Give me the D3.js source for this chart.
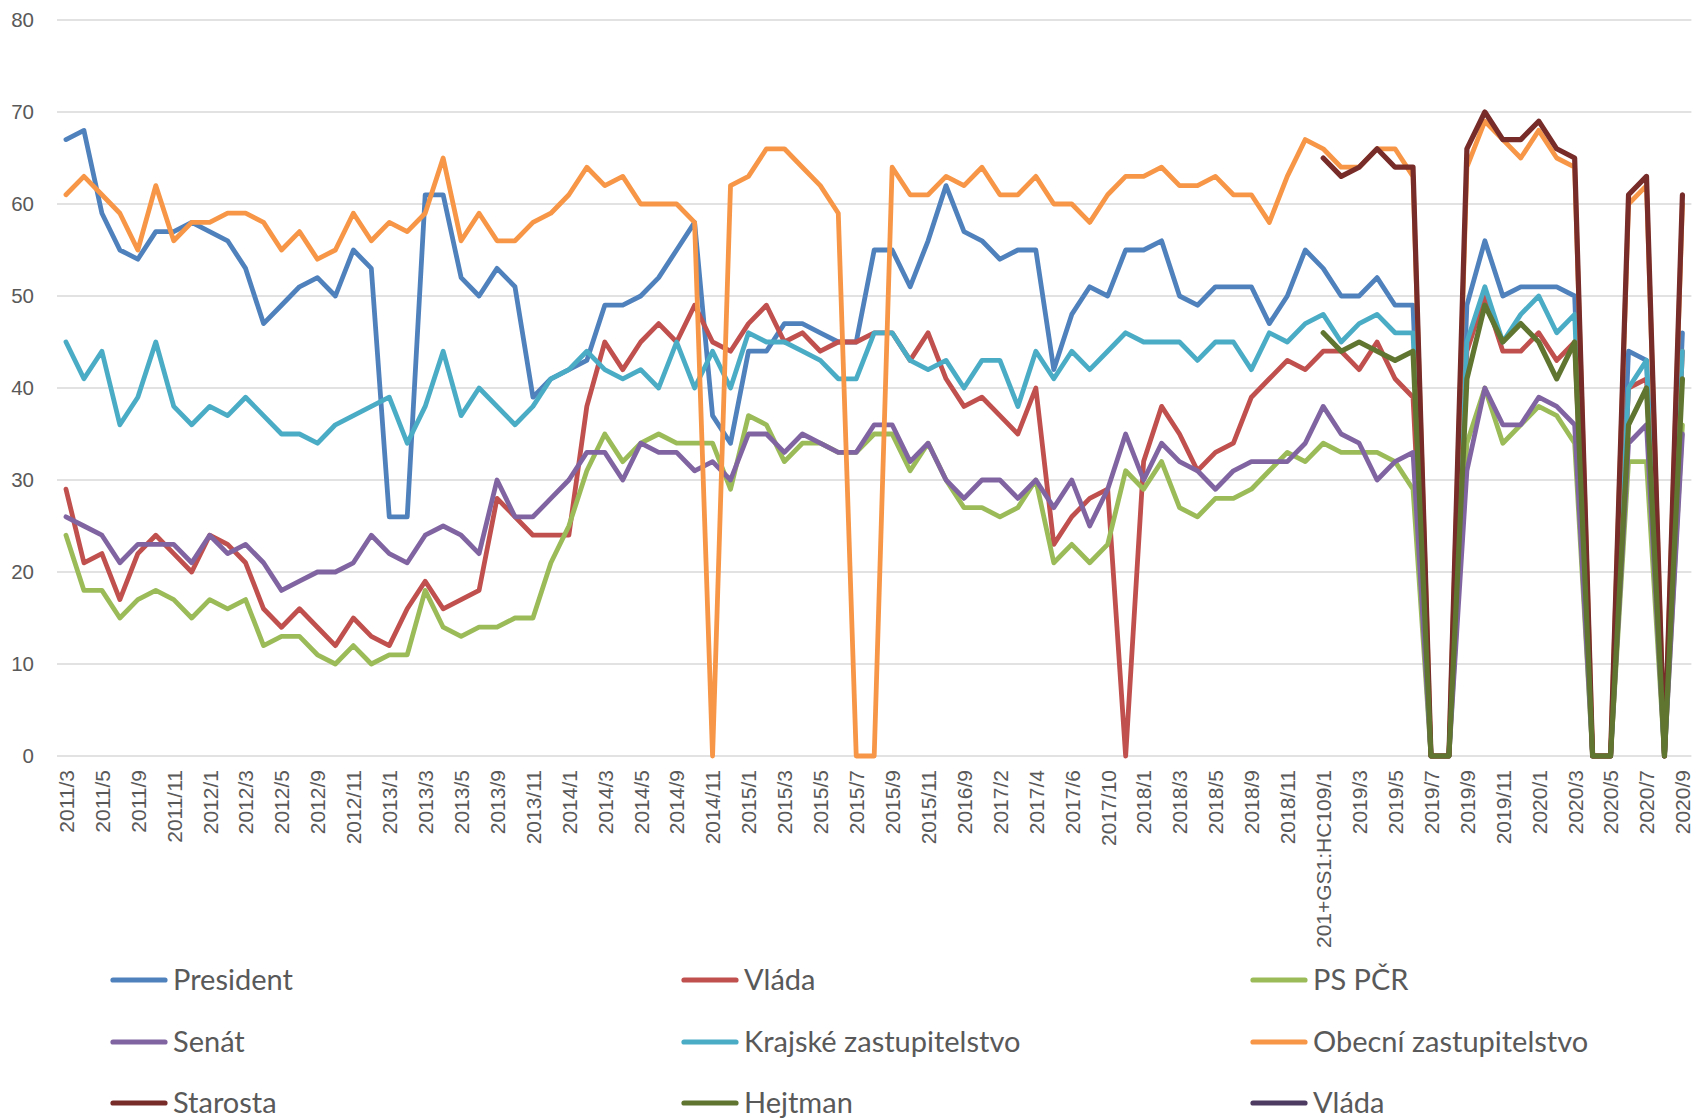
<!DOCTYPE html>
<html>
<head>
<meta charset="utf-8">
<script src="https://cdn.jsdelivr.net/npm/d3@7"></script>
<style>
  html, body { margin: 0; padding: 0; background: #fff; }
  svg { display: block; }
</style>
</head>
<body>
<svg id="chart" width="1696" height="1118"></svg>
<script>
// Survey months (category axis); every second one carries a visible label
const months = [
  "2011/3","2011/4","2011/5","2011/6","2011/9","2011/10","2011/11","2011/12",
  "2012/1","2012/2","2012/3","2012/4","2012/5","2012/6","2012/9","2012/10",
  "2012/11","2012/12","2013/1","2013/2","2013/3","2013/4","2013/5","2013/6",
  "2013/9","2013/10","2013/11","2013/12","2014/1","2014/2","2014/3","2014/4",
  "2014/5","2014/6","2014/9","2014/10","2014/11","2014/12","2015/1","2015/2",
  "2015/3","2015/4","2015/5","2015/6","2015/7","2015/8","2015/9","2015/10",
  "2015/11","2016/1","2016/9","2016/11","2017/2","2017/3","2017/4","2017/5",
  "2017/6","2017/9","2017/10","2017/11","2018/1","2018/2","2018/3","2018/4",
  "2018/5","2018/6","2018/9","2018/10","2018/11","2018/12","201+GS1:HC109/1","2019/2",
  "2019/3","2019/4","2019/5","2019/6","2019/7","2019/8","2019/9","2019/10",
  "2019/11","2019/12","2020/1","2020/2","2020/3","2020/4","2020/5","2020/6",
  "2020/7","2020/8","2020/9"
];

const president = [
  67,68,59,55,54,57,57,58,57,56,
  53,47,49,51,52,50,55,53,26,26,
  61,61,52,50,53,51,39,41,42,43,
  49,49,50,52,55,58,37,34,44,44,
  47,47,46,45,45,55,55,51,56,62,
  57,56,54,55,55,42,48,51,50,55,
  55,56,50,49,51,51,51,47,50,55,
  53,50,50,52,49,49,0,0,49,56,
  50,51,51,51,50,0,0,44,43,0,46
];
const vlada = [
  29,21,22,17,22,24,22,20,24,23,
  21,16,14,16,14,12,15,13,12,16,
  19,16,17,18,28,26,24,24,24,38,
  45,42,45,47,45,49,45,44,47,49,
  45,46,44,45,45,46,46,43,46,41,
  38,39,37,35,40,23,26,28,29,0,
  32,38,35,31,33,34,39,41,43,42,
  44,44,42,45,41,39,0,0,44,50,
  44,44,46,43,45,0,0,40,41,0,44
];
const psPcr = [
  24,18,18,15,17,18,17,15,17,16,
  17,12,13,13,11,10,12,10,11,11,
  18,14,13,14,14,15,15,21,25,31,
  35,32,34,35,34,34,34,29,37,36,
  32,34,34,33,33,35,35,31,34,30,
  27,27,26,27,30,21,23,21,23,31,
  29,32,27,26,28,28,29,31,33,32,
  34,33,33,33,32,29,0,0,34,40,
  34,36,38,37,34,0,0,32,32,0,36
];
const senat = [
  26,25,24,21,23,23,23,21,24,22,
  23,21,18,19,20,20,21,24,22,21,
  24,25,24,22,30,26,26,28,30,33,
  33,30,34,33,33,31,32,30,35,35,
  33,35,34,33,33,36,36,32,34,30,
  28,30,30,28,30,27,30,25,29,35,
  30,34,32,31,29,31,32,32,32,34,
  38,35,34,30,32,33,0,0,31,40,
  36,36,39,38,36,0,0,34,36,0,35
];
const krajske = [
  45,41,44,36,39,45,38,36,38,37,
  39,37,35,35,34,36,37,38,39,34,
  38,44,37,40,38,36,38,41,42,44,
  42,41,42,40,45,40,44,40,46,45,
  45,44,43,41,41,46,46,43,42,43,
  40,43,43,38,44,41,44,42,44,46,
  45,45,45,43,45,45,42,46,45,47,
  48,45,47,48,46,46,0,0,45,51,
  45,48,50,46,48,0,0,40,43,0,44
];
const obecni = [
  61,63,61,59,55,62,56,58,58,59,
  59,58,55,57,54,55,59,56,58,57,
  59,65,56,59,56,56,58,59,61,64,
  62,63,60,60,60,58,0,62,63,66,
  66,64,62,59,0,0,64,61,61,63,
  62,64,61,61,63,60,60,58,61,63,
  63,64,62,62,63,61,61,58,63,67,
  66,64,64,66,66,63,0,0,64,69,
  67,65,68,65,64,0,0,60,62,0,60
];
// Series that only start in 2019 (null = no survey)
const N70 = Array(70).fill(null);
const starosta = N70.concat([65,63,64,66,64,64,0,0,66,70, 67,67,69,66,65,0,0,61,63,0,61]);
const hejtman  = N70.concat([46,44,45,44,43,44,0,0,41,49, 45,47,45,41,45,0,0,36,40,0,41]);
const vlada2   = Array(91).fill(null);

const seriesNames  = ["President","Vláda","PS PČR","Senát","Krajské zastupitelstvo","Obecní zastupitelstvo","Starosta","Hejtman","Vláda"];
const seriesValues = [president, vlada, psPcr, senat, krajske, obecni, starosta, hejtman, vlada2];
const seriesColors = ["#4F81BD","#C0504D","#9BBB59","#8064A2","#4BACC6","#F79646","#772C2A","#5F7530","#4D3B62"];

const yTicks = [0,10,20,30,40,50,60,70,80];

const svg = d3.select("#chart");
const plotLeft = 57, plotRight = 1691.4, plotTop = 20, plotBottom = 756;

const x = d3.scalePoint().domain(d3.range(months.length)).range([plotLeft, plotRight]).padding(0.5);
const y = d3.scaleLinear().domain([0, 80]).range([plotBottom, plotTop]);

// horizontal gridlines
svg.append("g").selectAll("line").data(yTicks).join("line")
  .attr("x1", plotLeft).attr("x2", plotRight)
  .attr("y1", d => y(d)).attr("y2", d => y(d))
  .attr("stroke", "#D9D9D9").attr("stroke-width", 1.5);

// value axis labels
const yAxis = svg.append("g").attr("transform", `translate(${plotLeft - 23},0)`)
  .call(d3.axisLeft(y).tickValues(yTicks).tickSize(0).tickPadding(0));
yAxis.select(".domain").remove();
yAxis.selectAll("text")
  .attr("font-family", "Liberation Sans, Arial, sans-serif")
  .attr("font-size", 20.5).attr("fill", "#595959");

// category axis labels, rotated, every second month
const xAxis = svg.append("g").attr("transform", `translate(0,${plotBottom})`)
  .call(d3.axisBottom(x)
    .tickValues(d3.range(0, months.length, 2))
    .tickFormat(i => months[i])
    .tickSize(0));
xAxis.select(".domain").remove();
xAxis.selectAll("text")
  .attr("font-family", "Liberation Sans, Arial, sans-serif")
  .attr("font-size", 21).attr("fill", "#595959")
  .attr("text-anchor", "end")
  .attr("transform", "translate(0,14) rotate(-90)")
  .attr("dx", 0).attr("dy", "0.35em").attr("x", 0).attr("y", 0);

// lines
const line = d3.line()
  .defined(d => d != null)
  .x((d, i) => x(i))
  .y(d => y(d));

svg.append("g").selectAll("path").data(seriesValues).join("path")
  .attr("d", d => line(d))
  .attr("fill", "none")
  .attr("stroke", (d, i) => seriesColors[i])
  .attr("stroke-width", (d, i) => i >= 6 ? 5.2 : 4.8)
  .attr("stroke-linejoin", "round")
  .attr("stroke-linecap", "round");

// legend: three columns
const colX = [113, 684, 1253];
const rowY = [980, 1042, 1103];
const legend = svg.append("g").selectAll("g").data(seriesNames).join("g")
  .attr("transform", (d, i) => `translate(${colX[i % 3]},${rowY[Math.floor(i / 3)]})`);
legend.append("line")
  .attr("x1", 0).attr("x2", 52).attr("y1", 0).attr("y2", 0)
  .attr("stroke", (d, i) => seriesColors[i])
  .attr("stroke-width", 5.2).attr("stroke-linecap", "round");
legend.append("text")
  .attr("x", 60).attr("y", 0).attr("dy", "0.35em")
  .attr("font-family", "Lato, Open Sans, sans-serif")
  .attr("font-size", 29).attr("fill", "#595959")
  .text(d => d);
</script>
</body>
</html>
